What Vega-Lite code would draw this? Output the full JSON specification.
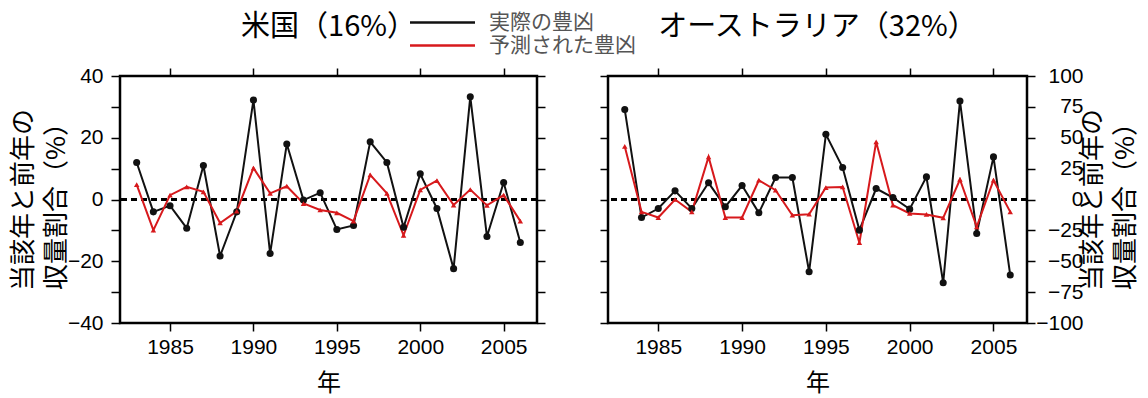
{
  "$schema": "https://vega.github.io/schema/vega-lite/v6.json",
  "padding": {"left": 9, "top": 11, "right": 0, "bottom": 0},
  "background": "white",
  "bounds": "flush",
  "spacing": 71,
  "data": {"values": [
    {"panel":"US","series":"実際の豊凶","year":1983,"value":12},
    {"panel":"US","series":"実際の豊凶","year":1984,"value":-4},
    {"panel":"US","series":"実際の豊凶","year":1985,"value":-2},
    {"panel":"US","series":"実際の豊凶","year":1986,"value":-9.3},
    {"panel":"US","series":"実際の豊凶","year":1987,"value":11},
    {"panel":"US","series":"実際の豊凶","year":1988,"value":-18.3},
    {"panel":"US","series":"実際の豊凶","year":1989,"value":-4},
    {"panel":"US","series":"実際の豊凶","year":1990,"value":32.2},
    {"panel":"US","series":"実際の豊凶","year":1991,"value":-17.5},
    {"panel":"US","series":"実際の豊凶","year":1992,"value":18},
    {"panel":"US","series":"実際の豊凶","year":1993,"value":-0.2},
    {"panel":"US","series":"実際の豊凶","year":1994,"value":2.2},
    {"panel":"US","series":"実際の豊凶","year":1995,"value":-9.7},
    {"panel":"US","series":"実際の豊凶","year":1996,"value":-8.4},
    {"panel":"US","series":"実際の豊凶","year":1997,"value":18.7},
    {"panel":"US","series":"実際の豊凶","year":1998,"value":12},
    {"panel":"US","series":"実際の豊凶","year":1999,"value":-9},
    {"panel":"US","series":"実際の豊凶","year":2000,"value":8.3},
    {"panel":"US","series":"実際の豊凶","year":2001,"value":-2.9},
    {"panel":"US","series":"実際の豊凶","year":2002,"value":-22.4},
    {"panel":"US","series":"実際の豊凶","year":2003,"value":33.3},
    {"panel":"US","series":"実際の豊凶","year":2004,"value":-12},
    {"panel":"US","series":"実際の豊凶","year":2005,"value":5.5},
    {"panel":"US","series":"実際の豊凶","year":2006,"value":-13.9},
    {"panel":"US","series":"予測された豊凶","year":1983,"value":4.8},
    {"panel":"US","series":"予測された豊凶","year":1984,"value":-9.9},
    {"panel":"US","series":"予測された豊凶","year":1985,"value":1.4},
    {"panel":"US","series":"予測された豊凶","year":1986,"value":4.1},
    {"panel":"US","series":"予測された豊凶","year":1987,"value":2.5},
    {"panel":"US","series":"予測された豊凶","year":1988,"value":-7.6},
    {"panel":"US","series":"予測された豊凶","year":1989,"value":-3.8},
    {"panel":"US","series":"予測された豊凶","year":1990,"value":10.2},
    {"panel":"US","series":"予測された豊凶","year":1991,"value":2},
    {"panel":"US","series":"予測された豊凶","year":1992,"value":4.3},
    {"panel":"US","series":"予測された豊凶","year":1993,"value":-1.3},
    {"panel":"US","series":"予測された豊凶","year":1994,"value":-3.4},
    {"panel":"US","series":"予測された豊凶","year":1995,"value":-4.3},
    {"panel":"US","series":"予測された豊凶","year":1996,"value":-7},
    {"panel":"US","series":"予測された豊凶","year":1997,"value":8},
    {"panel":"US","series":"予測された豊凶","year":1998,"value":2},
    {"panel":"US","series":"予測された豊凶","year":1999,"value":-11.6},
    {"panel":"US","series":"予測された豊凶","year":2000,"value":3.1},
    {"panel":"US","series":"予測された豊凶","year":2001,"value":6.1},
    {"panel":"US","series":"予測された豊凶","year":2002,"value":-1.8},
    {"panel":"US","series":"予測された豊凶","year":2003,"value":3.2},
    {"panel":"US","series":"予測された豊凶","year":2004,"value":-1.9},
    {"panel":"US","series":"予測された豊凶","year":2005,"value":1.4},
    {"panel":"US","series":"予測された豊凶","year":2006,"value":-7},
    {"panel":"AU","series":"実際の豊凶","year":1983,"value":72.8},
    {"panel":"AU","series":"実際の豊凶","year":1984,"value":-14.6},
    {"panel":"AU","series":"実際の豊凶","year":1985,"value":-7.3},
    {"panel":"AU","series":"実際の豊凶","year":1986,"value":7},
    {"panel":"AU","series":"実際の豊凶","year":1987,"value":-7.3},
    {"panel":"AU","series":"実際の豊凶","year":1988,"value":13.5},
    {"panel":"AU","series":"実際の豊凶","year":1989,"value":-5.9},
    {"panel":"AU","series":"実際の豊凶","year":1990,"value":11.3},
    {"panel":"AU","series":"実際の豊凶","year":1991,"value":-10.8},
    {"panel":"AU","series":"実際の豊凶","year":1992,"value":17.8},
    {"panel":"AU","series":"実際の豊凶","year":1993,"value":17.8},
    {"panel":"AU","series":"実際の豊凶","year":1994,"value":-58.5},
    {"panel":"AU","series":"実際の豊凶","year":1995,"value":52.8},
    {"panel":"AU","series":"実際の豊凶","year":1996,"value":25.9},
    {"panel":"AU","series":"実際の豊凶","year":1997,"value":-24.8},
    {"panel":"AU","series":"実際の豊凶","year":1998,"value":8.9},
    {"panel":"AU","series":"実際の豊凶","year":1999,"value":1.6},
    {"panel":"AU","series":"実際の豊凶","year":2000,"value":-7.8},
    {"panel":"AU","series":"実際の豊凶","year":2001,"value":18.3},
    {"panel":"AU","series":"実際の豊凶","year":2002,"value":-67.4},
    {"panel":"AU","series":"実際の豊凶","year":2003,"value":79.8},
    {"panel":"AU","series":"実際の豊凶","year":2004,"value":-27.5},
    {"panel":"AU","series":"実際の豊凶","year":2005,"value":34.5},
    {"panel":"AU","series":"実際の豊凶","year":2006,"value":-61.2},
    {"panel":"AU","series":"予測された豊凶","year":1983,"value":43},
    {"panel":"AU","series":"予測された豊凶","year":1984,"value":-10},
    {"panel":"AU","series":"予測された豊凶","year":1985,"value":-14.6},
    {"panel":"AU","series":"予測された豊凶","year":1986,"value":0},
    {"panel":"AU","series":"予測された豊凶","year":1987,"value":-10},
    {"panel":"AU","series":"予測された豊凶","year":1988,"value":34.5},
    {"panel":"AU","series":"予測された豊凶","year":1989,"value":-14.6},
    {"panel":"AU","series":"予測された豊凶","year":1990,"value":-14.6},
    {"panel":"AU","series":"予測された豊凶","year":1991,"value":15.6},
    {"panel":"AU","series":"予測された豊凶","year":1992,"value":7.5},
    {"panel":"AU","series":"予測された豊凶","year":1993,"value":-12.7},
    {"panel":"AU","series":"予測された豊凶","year":1994,"value":-11.9},
    {"panel":"AU","series":"予測された豊凶","year":1995,"value":9.7},
    {"panel":"AU","series":"予測された豊凶","year":1996,"value":10.2},
    {"panel":"AU","series":"予測された豊凶","year":1997,"value":-35},
    {"panel":"AU","series":"予測された豊凶","year":1998,"value":46.6},
    {"panel":"AU","series":"予測された豊凶","year":1999,"value":-4.6},
    {"panel":"AU","series":"予測された豊凶","year":2000,"value":-11.3},
    {"panel":"AU","series":"予測された豊凶","year":2001,"value":-12.1},
    {"panel":"AU","series":"予測された豊凶","year":2002,"value":-14.8},
    {"panel":"AU","series":"予測された豊凶","year":2003,"value":16.2},
    {"panel":"AU","series":"予測された豊凶","year":2004,"value":-22.1},
    {"panel":"AU","series":"予測された豊凶","year":2005,"value":15.6},
    {"panel":"AU","series":"予測された豊凶","year":2006,"value":-10}
  ]},
  "hconcat": [
    {
      "width": 417, "height": 247,
      "title": {"text": "米国（16%）", "frame": "group", "baseline": "alphabetic", "offset": 0},
      "transform": [{"filter": "datum.panel == 'US'"}],
      "resolve": {"axis": {"x": "independent", "y": "independent"}},
      "layer": [
        {"mark": {"type": "rule", "strokeDash": [6, 4], "strokeWidth": 2, "color": "black"},
         "encoding": {"y": {"datum": 0, "type": "quantitative", "scale": {"domain": [-40, 40], "nice": false}, "axis": null}}},
        {"mark": {"type": "line", "strokeWidth": 2},
         "encoding": {
           "x": {"field": "year", "type": "quantitative", "scale": {"domain": [1982, 2007], "nice": false, "zero": false},
                 "axis": {"values": [1985, 1990, 1995, 2000, 2005], "format": "d", "title": "年", "titleFontSize": 24, "titlePadding": 14, "labelPadding": 5}},
           "y": {"field": "value", "type": "quantitative", "scale": {"domain": [-40, 40], "nice": false},
                 "axis": {"values": [-40, -30, -20, -10, 0, 10, 20, 30, 40], "labelExpr": "datum.value % 20 == 0 ? datum.label : ''",
                          "title": ["当該年と前年の", "収量割合（%）"], "titleFontSize": 26, "titleLineHeight": 33, "titlePadding": -2, "tickSize": 9, "labelPadding": 8}},
           "color": {"field": "series", "type": "nominal",
                     "scale": {"domain": ["実際の豊凶", "予測された豊凶"], "range": ["#111111", "#d7191c"]},
                     "legend": {"orient": "none", "legendX": 312, "legendY": -64, "title": null, "symbolType": "M-6.5,0H6.5", "symbolSize": 100, "symbolStrokeWidth": 2.5,
                                "labelFontSize": 21, "labelFont": "Noto Sans CJK JP", "labelColor": "#555555", "labelOffset": 36, "rowPadding": 1, "padding": 0}}
         }},
        {"transform": [{"filter": "datum.series == '実際の豊凶'"}],
         "mark": {"type": "point", "filled": true, "shape": "circle", "size": 50, "color": "#111111", "opacity": 1},
         "encoding": {"x": {"field": "year", "type": "quantitative", "axis": null}, "y": {"field": "value", "type": "quantitative", "axis": null}}},
        {"transform": [{"filter": "datum.series == '予測された豊凶'"}],
         "mark": {"type": "point", "filled": true, "shape": "triangle-up", "size": 30, "color": "#d7191c", "opacity": 1},
         "encoding": {"x": {"field": "year", "type": "quantitative", "axis": null}, "y": {"field": "value", "type": "quantitative", "axis": null}}},
        {"mark": {"type": "point", "opacity": 0},
         "encoding": {
           "x": {"field": "year", "type": "quantitative", "axis": {"orient": "top", "values": [1985, 1990, 1995, 2000, 2005], "labels": false, "title": null}},
           "y": {"field": "value", "type": "quantitative", "axis": {"orient": "right", "values": [-40, -30, -20, -10, 0, 10, 20, 30, 40], "labels": false, "title": null}}
         }}
      ]
    },
    {
      "width": 419, "height": 247,
      "title": {"text": "オーストラリア（32%）", "frame": "group", "baseline": "alphabetic", "offset": 0},
      "transform": [{"filter": "datum.panel == 'AU'"}],
      "resolve": {"axis": {"x": "independent", "y": "independent"}},
      "layer": [
        {"mark": {"type": "rule", "strokeDash": [6, 4], "strokeWidth": 2, "color": "black"},
         "encoding": {"y": {"datum": 0, "type": "quantitative", "scale": {"domain": [-100, 100], "nice": false}, "axis": null}}},
        {"mark": {"type": "line", "strokeWidth": 2},
         "encoding": {
           "x": {"field": "year", "type": "quantitative", "scale": {"domain": [1982, 2007], "nice": false, "zero": false},
                 "axis": {"values": [1985, 1990, 1995, 2000, 2005], "format": "d", "title": "年", "titleFontSize": 24, "titlePadding": 14, "labelPadding": 5}},
           "y": {"field": "value", "type": "quantitative", "scale": {"domain": [-100, 100], "nice": false},
                 "axis": {"values": [-100, -75, -50, -25, 0, 25, 50, 75, 100], "labels": false, "title": null}},
           "color": {"field": "series", "type": "nominal",
                     "scale": {"domain": ["実際の豊凶", "予測された豊凶"], "range": ["#111111", "#d7191c"]}}
         }},
        {"transform": [{"filter": "datum.series == '実際の豊凶'"}],
         "mark": {"type": "point", "filled": true, "shape": "circle", "size": 50, "color": "#111111", "opacity": 1},
         "encoding": {"x": {"field": "year", "type": "quantitative", "axis": null}, "y": {"field": "value", "type": "quantitative", "axis": null}}},
        {"transform": [{"filter": "datum.series == '予測された豊凶'"}],
         "mark": {"type": "point", "filled": true, "shape": "triangle-up", "size": 30, "color": "#d7191c", "opacity": 1},
         "encoding": {"x": {"field": "year", "type": "quantitative", "axis": null}, "y": {"field": "value", "type": "quantitative", "axis": null}}},
        {"mark": {"type": "point", "opacity": 0},
         "encoding": {
           "x": {"field": "year", "type": "quantitative", "axis": {"orient": "top", "values": [1985, 1990, 1995, 2000, 2005], "labels": false, "title": null}},
           "y": {"field": "value", "type": "quantitative", "axis": {"orient": "right", "values": [-100, -75, -50, -25, 0, 25, 50, 75, 100],
                 "labelAlign": "right", "labelPadding": 48,
                 "title": ["当該年と前年の", "収量割合（%）"], "titleAngle": 270, "titleBaseline": "top", "titleFontSize": 26, "titleLineHeight": 33, "titlePadding": -37}}
         }}
      ]
    }
  ],
  "config": {
    "view": {"stroke": "black", "strokeWidth": 2.5},
    "axis": {"domain": false, "grid": false, "tickColor": "black", "tickWidth": 1.5, "tickSize": 8,
             "labelFont": "Liberation Sans", "labelFontSize": 21, "labelColor": "black",
             "titleFont": "Noto Sans CJK JP", "titleFontWeight": "normal", "titleColor": "black"},
    "title": {"font": "Noto Sans CJK JP", "fontSize": 29, "fontWeight": "normal", "color": "black"}
  }
}
